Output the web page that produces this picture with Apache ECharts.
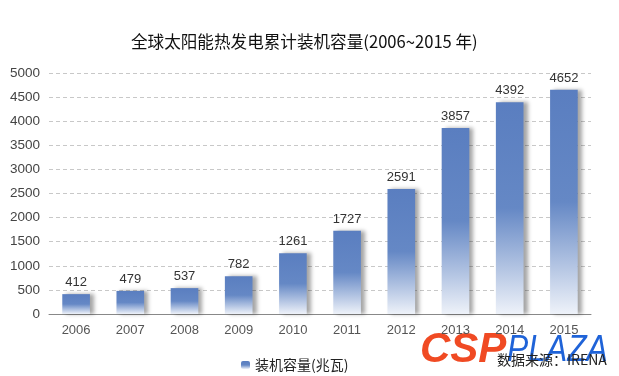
<!DOCTYPE html>
<html><head><meta charset="utf-8">
<script src="https://cdn.jsdelivr.net/npm/echarts@6/dist/echarts.min.js"></script>
<style>html,body{margin:0;padding:0;background:#fff}#c{width:619px;height:376px}</style>
</head><body><div id="c"></div>
<script>
const categories = ['2006','2007','2008','2009','2010','2011','2012','2013','2014','2015'];
const capacity = [412, 479, 537, 782, 1261, 1727, 2591, 3857, 4392, 4652];
const seriesName = '装机容量(兆瓦)';
const titleText = '全球太阳能热发电累计装机容量(2006~2015 年)';
const sourceText = '数据来源：IRENA';

const chart = echarts.init(document.getElementById('c'));
const barGrad = new echarts.graphic.LinearGradient(0,0,0,1,[
  {offset:0,color:'#5a7ec0'},{offset:0.5,color:'#6588c5'},{offset:1,color:'#eef2f9'}]);
chart.setOption({
  animation:false,
  title:{text:titleText,left:126,top:28,
    textStyle:{fontFamily:'Noto Sans CJK SC',fontSize:16.6,fontWeight:'normal',color:'#111'}},
  grid:{left:49,right:28,top:73,bottom:62},
  legend:{data:[seriesName],left:236,top:353,itemWidth:9,itemHeight:8,itemGap:6,
    textStyle:{fontFamily:'Noto Sans CJK SC',fontSize:14,color:'#222'}},
  xAxis:{type:'category',data:categories,
    axisLine:{lineStyle:{color:'#888',width:1}},
    axisTick:{lineStyle:{color:'#888'},length:6},
    axisLabel:{fontFamily:'Liberation Sans',fontSize:13,color:'#555',margin:10}},
  yAxis:{type:'value',min:0,max:5000,interval:500,
    axisLine:{show:false},axisTick:{show:false},
    axisLabel:{fontFamily:'Liberation Sans',fontSize:13.5,color:'#444',margin:9,formatter:v=>String(v)},
    splitLine:{lineStyle:{color:'#c8c8c8',type:[4,3]}}},
  series:[{name:seriesName,type:'bar',data:capacity,barWidth:'51%',
    itemStyle:{color:barGrad,shadowColor:'rgba(0,0,0,0.35)',shadowBlur:4,shadowOffsetX:4},
    label:{show:true,position:'top',distance:5,fontFamily:'Liberation Sans',fontSize:13,color:'#333'}}],
  graphic:[
    {type:'text',x:420,y:329,style:{text:'CSP',font:'italic bold 42px "Liberation Sans"',fill:'#f04a23'}},
    {type:'text',x:507,y:332,scaleX:0.86,style:{text:'PLAZA',font:'italic 37px "Liberation Sans"',fill:'#1f63d8'}},
    {type:'text',x:497,y:353,style:{text:sourceText,font:'14px "Noto Sans CJK SC"',fill:'#222'}}
  ]
});
</script></body></html>
